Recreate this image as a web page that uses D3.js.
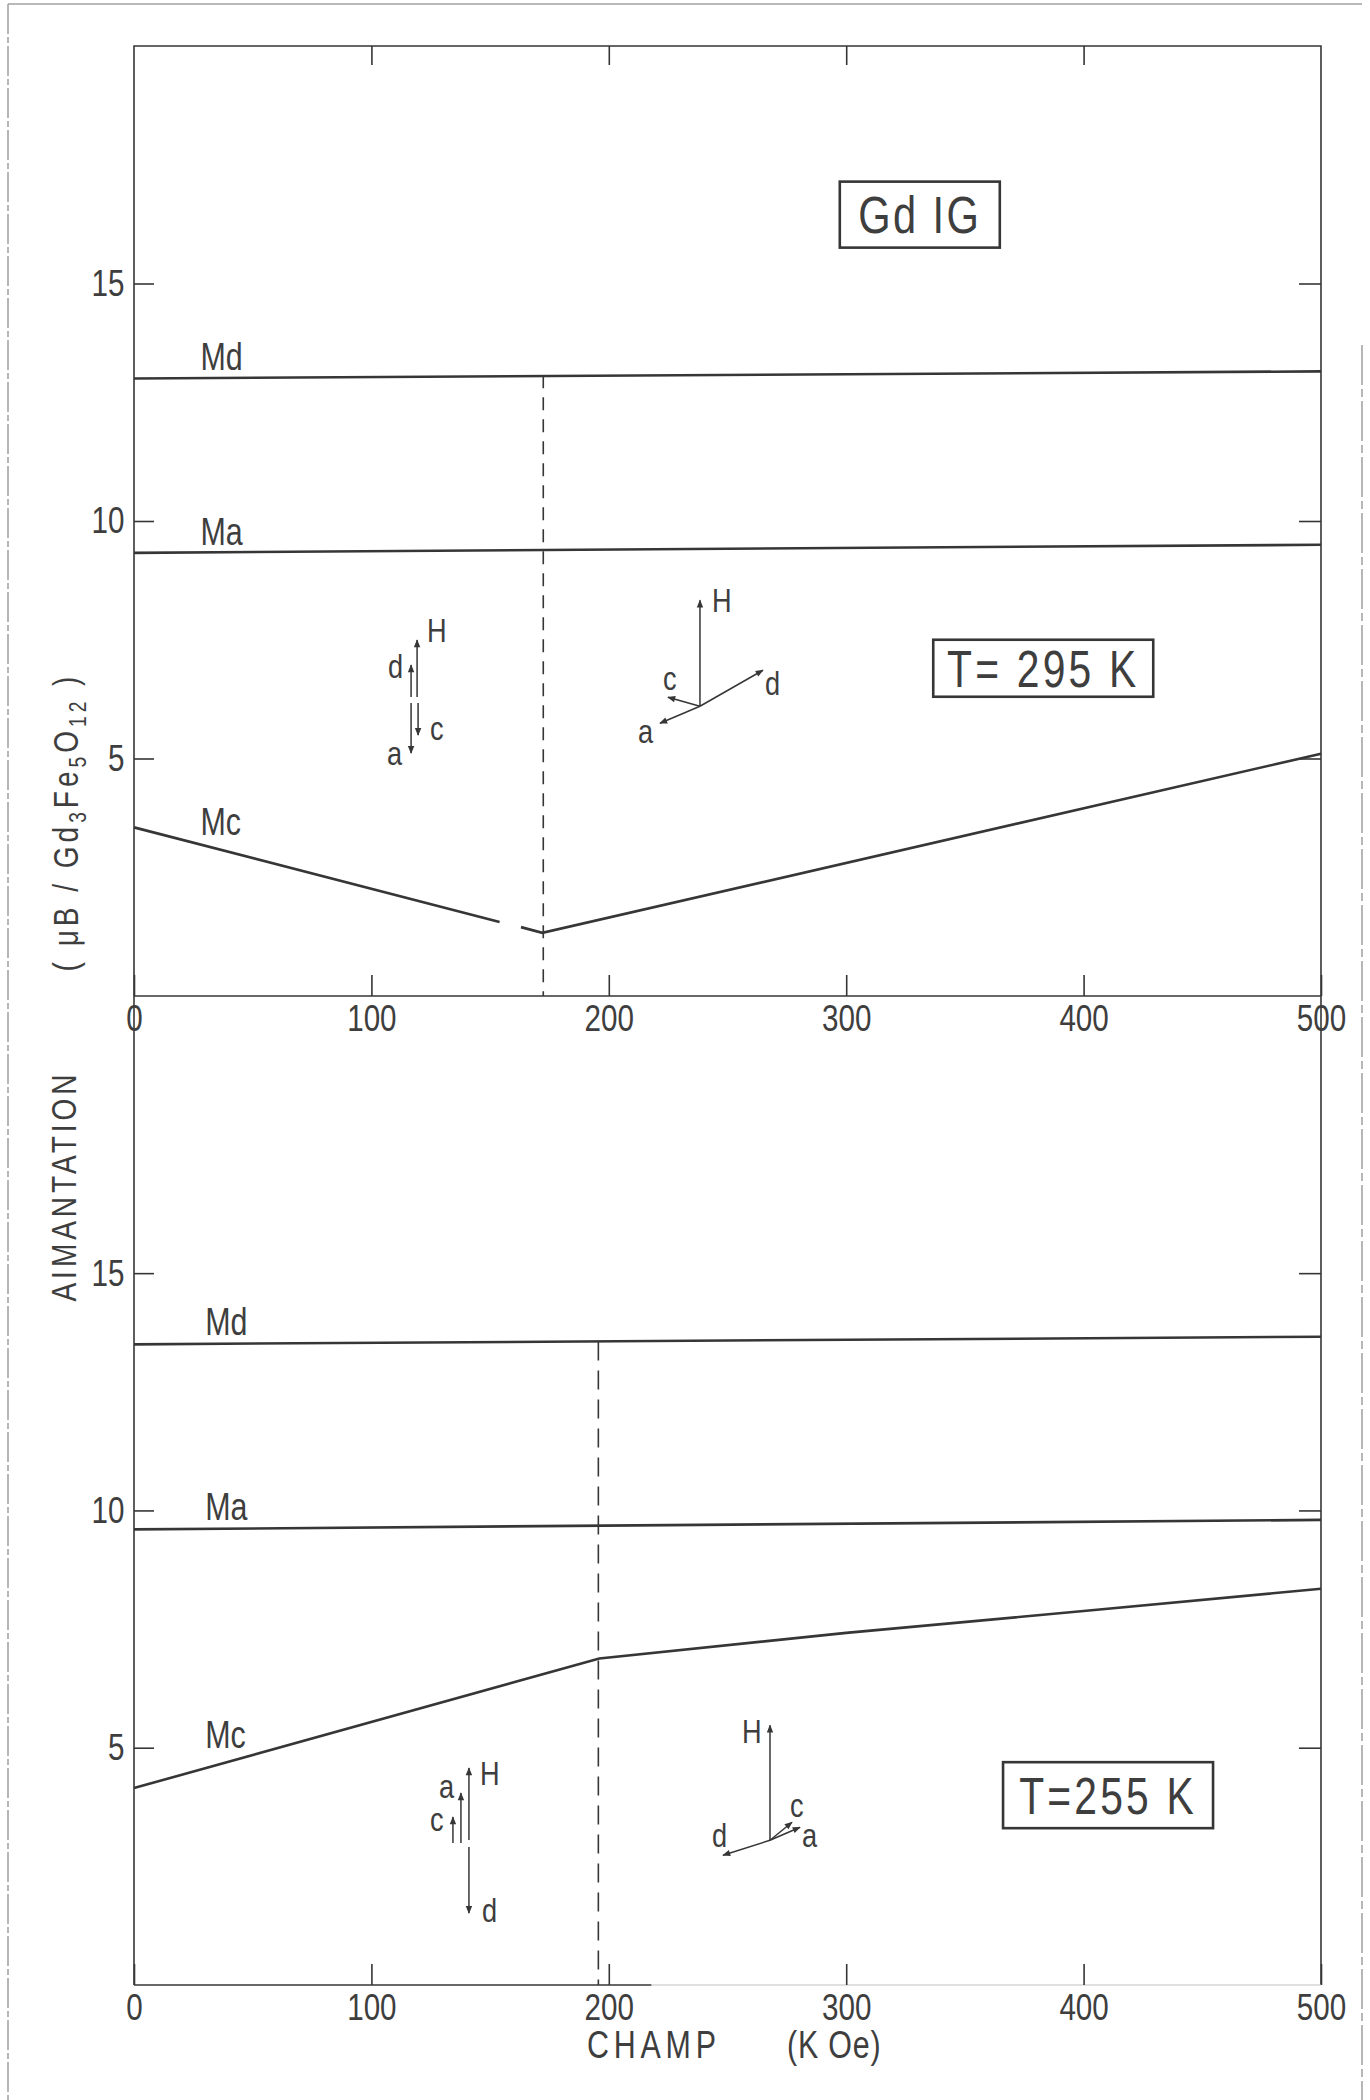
<!DOCTYPE html>
<html><head><meta charset="utf-8">
<script src="https://cdn.jsdelivr.net/npm/d3@7"></script>
<style>
html,body{margin:0;padding:0;background:#fff;}
svg text{font-family:"Liberation Sans",Arimo,"DejaVu Sans",sans-serif;fill:#3e3e3e;}
</style></head><body>
<svg id="chart" width="1370" height="2100"></svg>
<script>
// ---------- data ----------
const xTickValues = [0, 100, 200, 300, 400, 500];
const yTickValues = [5, 10, 15];
const seriesNames = ["Md", "Ma", "Mc"];
const chartTitle = "Gd IG";
const panelLabels = ["T= 295 K", "T=255 K"];
const xAxisTitle = ["CHAMP", "(K Oe)"];
const yAxisTitle = "AIMANTATION";

// T = 295 K  (field kOe, magnetisation muB)
const md295 = [[0, 13.0], [500, 13.15]];
const ma295 = [[0, 9.33], [500, 9.5]];
const mc295 = [[0, 3.55], [154, 1.56], [158, null], [163, 1.45], [172, 1.33], [500, 5.1]];
const transition295 = 172.4;
// T = 255 K
const md255 = [[0, 13.5], [500, 13.66]];
const ma255 = [[0, 9.6], [500, 9.8]];
const mc255 = [[0, 4.15], [196, 6.88], [300, 7.42], [400, 7.88], [500, 8.35]];
const transition255 = 195.6;

// ---------- layout ----------
const SX = 0.8; // horizontal compression of the lettering
const svg = d3.select("#chart");
svg.append("rect").attr("width",1370).attr("height",2100).attr("fill","#fff");
const ink = "#363636";
const x = d3.scaleLinear().domain([0, 500]).range([134, 1321]);
const yTop = d3.scaleLinear().domain([0, 20]).range([996, 46]);
const yBot = d3.scaleLinear().domain([0, 20.84]).range([1985, 996]);

function label(px, py, str, fs, opt = {}){
  const t = svg.append("text")
    .attr("transform", `translate(${px},${py})${opt.rot ? ` rotate(${opt.rot})` : ""} scale(${SX},1)`)
    .attr("font-size", fs);
  if (opt.anchor) t.attr("text-anchor", opt.anchor);
  if (opt.ls) t.attr("letter-spacing", opt.ls);
  if (str !== null) t.text(str);
  return t;
}

// page edges (scan)
svg.append("line").attr("x1",8).attr("x2",8).attr("y1",4).attr("y2",2100).attr("stroke","#a0a0a0").attr("stroke-width",1.5).attr("stroke-dasharray","30,3,6,3");
svg.append("line").attr("x1",8).attr("x2",1362).attr("y1",4).attr("y2",4).attr("stroke","#a0a0a0").attr("stroke-width",1.5);
svg.append("line").attr("x1",1362).attr("x2",1362).attr("y1",345).attr("y2",2100).attr("stroke","#a0a0a0").attr("stroke-width",1.5).attr("stroke-dasharray","40,4,8,4");

// frame
const frame = svg.append("g").attr("stroke", ink).attr("stroke-width", 1.6).attr("fill","none");
frame.append("path").attr("d", `M${x(0)},${yTop(0)}V${yTop(20)}H${x(500)}V${yBot(0)}`);
frame.append("line").attr("x1",x(0)).attr("x2",x(500)).attr("y1",yTop(0)).attr("y2",yTop(0));
frame.append("line").attr("x1",x(0)).attr("x2",x(0)).attr("y1",yTop(0)).attr("y2",yBot(0));
frame.append("line").attr("x1",x(0)).attr("x2",x(218)).attr("y1",yBot(0)).attr("y2",yBot(0));
frame.append("line").attr("x1",x(218)).attr("x2",x(500)).attr("y1",yBot(0)).attr("y2",yBot(0)).attr("stroke","#d6d6d6");

function styleAxis(g, fs){
  g.select(".domain").remove();
  g.selectAll(".tick line").attr("stroke", ink).attr("stroke-width",1.6);
  g.selectAll(".tick text").attr("fill","#3e3e3e").attr("font-size",fs)
    .attr("transform", `scale(${SX},1)`);
}
function panelAxes(y){
  const gl = svg.append("g").attr("transform",`translate(${x(0)},0)`)
    .call(d3.axisLeft(y).tickValues(yTickValues).tickSizeInner(-20).tickSizeOuter(0).tickPadding(12));
  styleAxis(gl, 37);
  const gr = svg.append("g").attr("transform",`translate(${x(500)},0)`)
    .call(d3.axisRight(y).tickValues(yTickValues).tickSizeInner(-22).tickSizeOuter(0).tickFormat(""));
  styleAxis(gr, 37);
  const gb = svg.append("g").attr("transform",`translate(0,${y(0)})`)
    .call(d3.axisBottom(x).tickValues(xTickValues).tickSizeInner(-21).tickSizeOuter(0).tickPadding(7));
  styleAxis(gb, 37);
  gb.selectAll(".tick text").attr("dy","0.76em");
}
panelAxes(yTop);
panelAxes(yBot);
const gt = svg.append("g").attr("transform",`translate(0,${yTop(20)})`)
  .call(d3.axisTop(x).tickValues([100,200,300,400]).tickSizeInner(-19).tickSizeOuter(0).tickFormat(""));
styleAxis(gt, 37);

// lines
const line = (y) => d3.line().defined(d => d[1] != null).x(d => x(d[0])).y(d => y(d[1]));
function drawSeries(data, y){
  svg.append("path").datum(data).attr("d", line(y)).attr("fill","none")
    .attr("stroke", ink).attr("stroke-width", 2.6).attr("stroke-linecap","butt");
}
[md295, ma295, mc295].forEach(s => drawSeries(s, yTop));
[md255, ma255, mc255].forEach(s => drawSeries(s, yBot));

// transition dashed lines
svg.append("line").attr("x1",x(transition295)).attr("x2",x(transition295))
  .attr("y1",yTop(13.07)).attr("y2",yTop(0)).attr("stroke",ink).attr("stroke-width",1.6).attr("stroke-dasharray","13,9");
svg.append("line").attr("x1",x(transition255)).attr("x2",x(transition255))
  .attr("y1",yBot(13.56)).attr("y2",yBot(0)).attr("stroke",ink).attr("stroke-width",1.6).attr("stroke-dasharray","19,10");

// series labels
const lab = (t, f, v, y, dy) => label(x(f), y(v) + dy, t, 38);
lab(seriesNames[0], 28, 13.0, yTop, -9);
lab(seriesNames[1], 28, 9.33, yTop, -8);
lab(seriesNames[2], 28, 3.18, yTop, -10);
lab(seriesNames[0], 30, 13.5, yBot, -9);
lab(seriesNames[1], 30, 9.6, yBot, -9);
lab(seriesNames[2], 30, 4.57, yBot, -20);

// boxed texts
function boxText(t, f, v, y, w, h, fs, ls){
  const cx = x(f), cy = y(v);
  svg.append("rect").attr("x",cx-w/2).attr("y",cy-h/2).attr("width",w).attr("height",h)
    .attr("fill","none").attr("stroke",ink).attr("stroke-width",2.6);
  label(cx, cy + fs*0.36, t, fs, {anchor:"middle", ls});
}
boxText(chartTitle, 331, 16.45, yTop, 160, 66, 52, 3);
boxText(panelLabels[0], 383, 6.9, yTop, 220, 57, 51, 4);
boxText(panelLabels[1], 410.3, 4.0, yBot, 210, 66, 51, 4);

// orientation diagrams
const defs = svg.append("defs");
defs.append("marker").attr("id","ah").attr("viewBox","0 0 10 10").attr("refX",9).attr("refY",5)
  .attr("markerWidth",10).attr("markerHeight",8).attr("markerUnits","userSpaceOnUse").attr("orient","auto")
  .append("path").attr("d","M0,1L10,5L0,9Z").attr("fill",ink);
const diagrams = [
  {y: yTop, f: 118.4, v: 6.23, arrows: [
    {n:"H", sx:2, sy:-3, dx:0, dy:-57, lx:12, ly:-58},
    {n:"d", sx:-4, sy:-3, dx:0, dy:-32, lx:-27, ly:-22},
    {n:"a", sx:-4, sy:3, dx:0, dy:50, lx:-28, ly:65},
    {n:"c", sx:3, sy:3, dx:0, dy:32, lx:15, ly:40}]},
  {y: yTop, f: 238.4, v: 6.1, arrows: [
    {n:"H", sx:0, sy:0, dx:0, dy:-106, lx:12, ly:-94},
    {n:"d", sx:0, sy:0, dx:63, dy:-36, lx:65, ly:-11},
    {n:"c", sx:0, sy:0, dx:-32, dy:-9, lx:-37, ly:-16},
    {n:"a", sx:0, sy:0, dx:-40, dy:17, lx:-62, ly:37}]},
  {y: yBot, f: 139.4, v: 2.99, arrows: [
    {n:"H", sx:4, sy:-3, dx:0, dy:-72, lx:15, ly:-58},
    {n:"a", sx:-4, sy:0, dx:0, dy:-50, lx:-26, ly:-45},
    {n:"c", sx:-12, sy:0, dx:0, dy:-26, lx:-35, ly:-12},
    {n:"d", sx:4, sy:4, dx:0, dy:66, lx:17, ly:79}]},
  {y: yBot, f: 267.9, v: 3.05, arrows: [
    {n:"H", sx:0, sy:0, dx:0, dy:-115, lx:-28, ly:-97},
    {n:"c", sx:0, sy:0, dx:22, dy:-18, lx:20, ly:-23},
    {n:"a", sx:0, sy:0, dx:30, dy:-13, lx:32, ly:7},
    {n:"d", sx:0, sy:0, dx:-47, dy:15, lx:-58, ly:7}]}
];
diagrams.forEach(dg => {
  const ox = x(dg.f), oy = dg.y(dg.v);
  dg.arrows.forEach(a => {
    svg.append("line").attr("x1",ox+a.sx).attr("y1",oy+a.sy).attr("x2",ox+a.sx+a.dx).attr("y2",oy+a.sy+a.dy)
      .attr("stroke",ink).attr("stroke-width",1.5).attr("marker-end","url(#ah)");
    label(ox+a.lx, oy+a.ly, a.n, 34);
  });
});

// axis titles
label(587, 2058, xAxisTitle[0], 38, {ls:6});
label(787, 2058, xAxisTitle[1], 38, {ls:1});

label(76, 1186, yAxisTitle, 35, {rot:-90, anchor:"middle", ls:5});
const ul = label(78, 822, null, 35, {rot:-90, anchor:"middle", ls:5});
const unitParts = [["( \u03BCB / Gd",0],["3",1],["Fe",0],["5",1],["O",0],["12",1],[" )",0]];
unitParts.forEach((p, i) => {
  const t = ul.append("tspan").text(p[0]);
  if (p[1]) t.attr("font-size",24).attr("dy",8);
  else if (i > 0 && unitParts[i-1][1]) t.attr("dy",-8);
});
</script>
</body></html>
